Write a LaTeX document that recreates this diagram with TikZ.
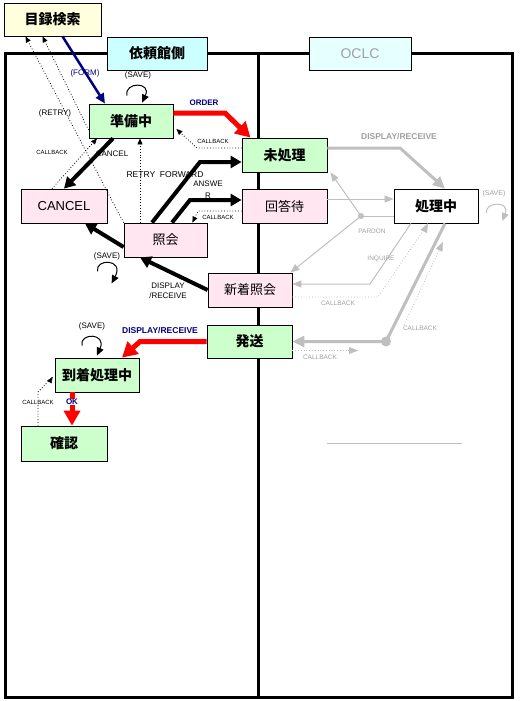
\documentclass[tikz,border=0pt]{standalone}
\usepackage{fontspec}
\setmainfont{Liberation Sans}
\newfontfamily\jp{Noto Sans CJK JP}
\usetikzlibrary{arrows.meta,calc}
\definecolor{boxyellow}{HTML}{FFFFDD}
\definecolor{boxcyan}{HTML}{CCFFFF}
\definecolor{boxcyanl}{HTML}{E6FFFF}
\definecolor{boxgreen}{HTML}{CCFFCC}
\definecolor{boxpink}{HTML}{FFE6F0}
\definecolor{navyc}{HTML}{000080}
\definecolor{lgray}{HTML}{BFBFBF}
\definecolor{tgray}{HTML}{A0A0A0}
\begin{document}
\begin{tikzpicture}[x=1pt,y=-1pt,
  box/.style={draw=black,line width=0.8pt,minimum width=85pt,minimum height=34pt,inner sep=0pt},
  jpb/.style={font=\jp\bfseries\fontsize{14}{16}\selectfont},
  jpn/.style={font=\jp\fontsize{13}{15}\selectfont},
  lbl/.style={font=\fontsize{8}{10}\selectfont,inner sep=0.5pt},
  cb/.style={font=\fontsize{6}{7}\selectfont,inner sep=0.5pt},
  bl/.style={font=\bfseries\fontsize{8.5}{10}\selectfont,inner sep=0.5pt,text=navyc},
  thickarrow/.style={line width=4pt,black,-{Triangle[length=11pt,width=12pt]}},
  redarrow/.style={line width=5pt,red,-{Triangle[length=15pt,width=16pt]}},
  navyarrow/.style={line width=2.5pt,navyc,-{Triangle[length=10pt,width=9pt]}},
  dotarrow/.style={line width=0.8pt,black,dotted,-{Triangle[length=6pt,width=5pt]}},
  loopst/.style={line width=1pt,black,-{Triangle[length=8pt,width=7pt]}},
  graythick/.style={line width=3pt,lgray,-{Triangle[length=12pt,width=11pt]}},
  graythin/.style={line width=1pt,lgray},
  graydot/.style={line width=0.8pt,lgray,dotted},
  graytip/.style={-{Triangle[length=9pt,width=7pt]}},
  glbl/.style={font=\fontsize{6.5}{8}\selectfont,inner sep=0.5pt,text=tgray}
]
\useasboundingbox (0,0) rectangle (527,701);
% frame
\draw[line width=3pt] (5,54) rectangle (512,697);
\draw[line width=3pt] (258,54) -- (258,697);
\draw[graythin] (327,443) -- (462,443);

% nodes
\node[box,fill=boxyellow,minimum width=97pt,minimum height=33pt,jpb] (kensaku) at (52.5,19.5) {目録検索};
\node[box,fill=boxcyan,minimum width=100pt,minimum height=33pt,jpb] (irai) at (157,53.5) {依頼館側};
\node[box,fill=boxcyanl,minimum width=102pt,minimum height=33pt,font=\fontsize{14}{16}\selectfont,text=tgray] (oclc) at (360,53.5) {OCLC};
\node[box,fill=boxgreen,minimum width=84pt,jpb] (junbi) at (131,121) {準備中};
\node[box,fill=boxgreen,jpb] (mishori) at (284.5,155) {未処理};
\node[box,fill=boxpink,jpn] (kaito) at (284.5,206) {回答待};
\node[box,fill=white,minimum width=84pt,jpb] (shorichu) at (436,206) {処理中};
\node[box,fill=boxpink,minimum width=86pt,font=\fontsize{13}{15}\selectfont] (cancel) at (64,206) {CANCEL};
\node[box,fill=boxpink,minimum width=83pt,jpn] (shokai) at (165.5,240) {照会};
\node[box,fill=boxpink,minimum width=84pt,jpn] (shinchaku) at (250,290) {新着照会};
\node[box,fill=boxgreen,minimum height=33pt,jpb] (hasso) at (249.5,341.5) {発送};
\node[box,fill=boxgreen,minimum width=84pt,jpb] (touchaku) at (97,375) {到着処理中};
\node[box,fill=boxgreen,minimum width=86pt,minimum height=35pt,jpb] (kakunin) at (64,443.5) {確認};

% FORM
\draw[navyarrow] ([xshift=10pt]kensaku.south) -- ([xshift=-26pt]junbi.north);
\node[lbl,text=navyc] (lform) at (85,73) {(FORM)};
% RETRY
\draw[dotarrow] (shokai.north west) -- ([xshift=-27pt]kensaku.south);
\draw[dotarrow] ([yshift=-9pt]junbi.west) -- ([xshift=-10pt]kensaku.south);
\node[lbl] (lretry) at (55,113) {(RETRY)};
% SAVE loops
\node[lbl] (lsave1) at (138,75) {(SAVE)};
\draw[loopst,shift={(junbi.north)}] (-4,-8) .. controls (-7,-22) and (21,-22) .. (11,-1);
\node[lbl] (lsave2) at (107,256) {(SAVE)};
\draw[loopst,shift={(shokai.south west)}] (-26,14) .. controls (-29,1) and (1,1) .. (-12,26);
\node[lbl] (lsave3) at (92,326) {(SAVE)};
\draw[loopst,shift={(touchaku.north)}] (-15,-12) .. controls (-18,-25) and (10,-25) .. (0,-2);
\node[glbl,font=\fontsize{7}{8}\selectfont] (lsave4) at (494,194) {(SAVE)};
\draw[line width=1pt,lgray,-{Triangle[length=8pt,width=7pt]},shift={(shorichu.east)}] (8,7) .. controls (6,-4) and (32,-6) .. (24,15);
% ORDER
\draw[redarrow] ([yshift=8pt]junbi.east) -- (225,113) -- ([xshift=-34pt]mishori.north);
\node[bl,font=\bfseries\fontsize{8}{10}\selectfont] (lorder) at (204,103) {ORDER};
% CALLBACK mishori -> junbi
\draw[dotarrow] ([yshift=7pt]mishori.west) -- (197,148) -- ([xshift=3pt,yshift=-8pt]junbi.east);
\node[cb] (lcb1) at (213,141) {CALLBACK};
% CANCEL
\draw[thickarrow] ([xshift=-18pt]junbi.south) -- (cancel.north);
\node[lbl] (lcancel) at (112,154) {CANCEL};
\draw[dotarrow] ([xshift=-12pt]cancel.north) -- ([xshift=-34pt]junbi.south);
\node[cb] (lcb2) at (52,152) {CALLBACK};
% RETRY FORWARD
\draw[dotarrow] ([xshift=-25.5pt]shokai.north) -- ([xshift=9pt]junbi.south);
\node[lbl,font=\fontsize{8.5}{10}\selectfont] (lrf) at (165,175) {RETRY\ \ FORWARD};
\draw[thickarrow] ([xshift=-13.5pt]shokai.north) -- (200,162) -- ([yshift=-7pt]mishori.west);
% ANSWER
\draw[thickarrow] ([xshift=6.5pt]shokai.north) -- (190,200) -- ([yshift=6pt]kaito.west);
\node[lbl,align=center,font=\fontsize{8}{12}\selectfont] (lans) at (208,190) {ANSWE\\R};
\draw[dotarrow] ([yshift=-5pt]kaito.west) -- (198,211) -- ([xshift=-15pt]shokai.north east);
\node[cb] (lcb3) at (218,217) {CALLBACK};
% shokai -> cancel
\draw[thickarrow] ([yshift=-7pt]shokai.west) -- ([xshift=21pt]cancel.south);
% shinchaku -> shokai
\draw[thickarrow] (shinchaku.west) -- ([xshift=-25.5pt]shokai.south);
\node[lbl,align=center] (ldr1) at (168,291) {DISPLAY\\/RECEIVE};
% hasso -> touchaku
\draw[redarrow] (hasso.west) -- (140,341.5) -- ([xshift=25pt]touchaku.north);
\node[bl] (ldr2) at (160,331) {DISPLAY/RECEIVE};
% kakunin callback
\draw[line width=0.8pt,dotted] ([xshift=-26pt]kakunin.north) -- (38,392) -- ([xshift=-2pt,yshift=-2pt]touchaku.west);
\draw[-{Triangle[length=6pt,width=5pt]}] (50,381) -- ([xshift=-2pt,yshift=-2pt]touchaku.west);
\node[cb,fill=white] (lcb4) at (38,402) {CALLBACK};
% OK
\draw[redarrow] ([xshift=-25pt]touchaku.south) -- ([xshift=8pt]kakunin.north);
\node[bl,fill=white,font=\bfseries\fontsize{8}{10}\selectfont] (lok) at (72,402) {OK};

% OCLC side gray
\draw[graythick] ([yshift=7pt]mishori.east) -- (400,148) -- ([xshift=9pt]shorichu.north);
\node[glbl,font=\bfseries\fontsize{8.5}{10}\selectfont] (ldr3) at (399,137) {DISPLAY/RECEIVE};
\draw[graythin,graytip] ([yshift=7pt]kaito.east) -- ([yshift=7pt]shorichu.west);
\coordinate (pd) at (361,216);
\draw[graythin] ([yshift=-10pt]shorichu.west) -- (pd);
\draw[graythin,graytip] (pd) -- ([xshift=3pt]mishori.south east);
\draw[graythin,graytip] (pd) -- ([xshift=-2pt]shinchaku.north east);
\fill[lgray] (pd) circle (3);
\node[glbl] (lpardon) at (372,231) {PARDON};
\draw[graythin,graytip] ([xshift=-25pt]shorichu.south) -- (370,284) -- ([yshift=6pt]shinchaku.east);
\node[glbl] (linq) at (381,259) {INQUIRE};
\draw[graydot] ([yshift=-7pt]shinchaku.east) -- (378,297) -- ([xshift=-8pt]shorichu.south);
\draw[lgray,-{Triangle[length=9pt,width=7pt]}] (424,231) -- ([xshift=-8pt]shorichu.south);
\node[glbl] (lcb5) at (338,303) {CALLBACK};
\coordinate (hd) at (386,341.5);
\draw[graythick] ([xshift=9pt]shorichu.south) -- (hd) -- (hasso.east);
\fill[lgray] (hd) circle (5);
\coordinate (cbend) at (358,350.5);
\draw[graydot] ([yshift=-9pt]hasso.east) -- (cbend);
\draw[lgray,-{Triangle[length=9pt,width=7pt]}] (348,350.5) -- (cbend);
\node[glbl] (lcb6) at (320,357) {CALLBACK};
\coordinate (cbs) at (404,325);
\coordinate (cbe) at (443,242);
\draw[graydot] (cbs) -- (cbe);
\draw[lgray,-{Triangle[length=9pt,width=7pt]}] ($(cbs)!0.9!(cbe)$) -- (cbe);
\node[glbl] (lcb7) at (420,328) {CALLBACK};
\end{tikzpicture}
\end{document}
